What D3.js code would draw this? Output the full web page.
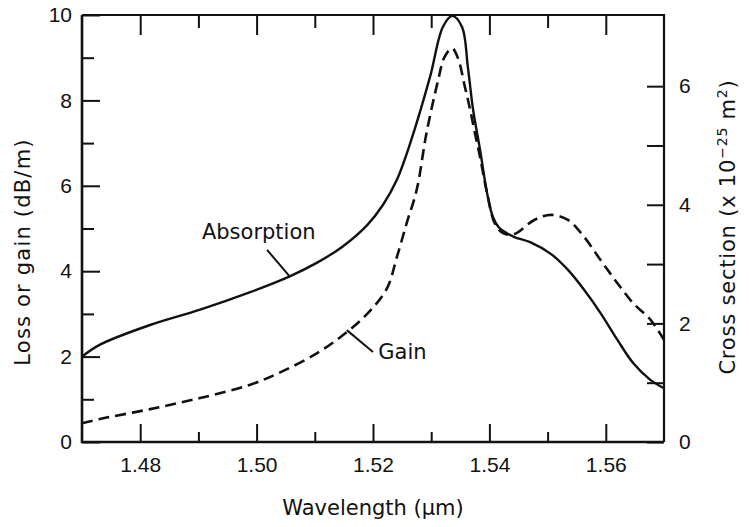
<!DOCTYPE html>
<html>
<head>
<meta charset="utf-8">
<script src="https://cdn.jsdelivr.net/npm/d3@7"></script>
<style>
  body { margin: 0; background: #fff; }
  svg { display: block; font-family: "DejaVu Sans", sans-serif; }
  .tick text { font-size: 21px; fill: #111; }
</style>
</head>
<body>
<div id="chart"></div>
<script>
// wavelength (um) and loss/gain (dB/m)
const absWl = [1.470, 1.4731, 1.4817, 1.4903, 1.4989, 1.5057, 1.5104, 1.5148, 1.519,
  1.5217, 1.5241, 1.5264, 1.5298, 1.532, 1.5336, 1.5353, 1.5363, 1.5372, 1.5384,
  1.5396, 1.5406, 1.5416, 1.543, 1.5443, 1.547, 1.5506, 1.5535, 1.5563, 1.5591,
  1.562, 1.5647, 1.5677, 1.570];
const absVal = [2.00, 2.28, 2.74, 3.10, 3.51, 3.88, 4.20, 4.58, 5.08,
  5.55, 6.14, 7.0, 8.55, 9.72, 9.98, 9.72, 8.78, 7.78, 6.84,
  5.83, 5.27, 5.03, 4.89, 4.80, 4.68, 4.40, 4.03, 3.56, 3.02,
  2.39, 1.85, 1.45, 1.26];

const gainWl = [1.470, 1.4731, 1.4817, 1.4903, 1.4989, 1.5045, 1.5104, 1.5148, 1.519, 1.5224,
  1.5241, 1.5258, 1.5275, 1.5292, 1.5312, 1.5323, 1.5336, 1.5346, 1.5358, 1.5367,
  1.5375, 1.5384, 1.5396, 1.541, 1.5425, 1.5443, 1.5477, 1.5506, 1.5535, 1.5563,
  1.5591, 1.562, 1.5647, 1.5677, 1.570];
const gainVal = [0.44, 0.54, 0.77, 1.03, 1.34, 1.66, 2.08, 2.50, 3.00, 3.60,
  4.33, 5.13, 5.90, 7.24, 8.48, 9.02, 9.22, 8.99, 8.31, 7.78,
  7.24, 6.67, 5.83, 5.1, 4.88, 4.87, 5.2, 5.32, 5.2, 4.8,
  4.26, 3.72, 3.25, 2.86, 2.39];

const xMajor = [1.48, 1.50, 1.52, 1.54, 1.56];
const xMinor = [1.49, 1.51, 1.53, 1.55];
const yMajor = [0, 2, 4, 6, 8, 10];
const yMinor = [1, 3, 5, 7, 9];
const rMajor = [0, 2, 4, 6];
const rMinor = [1, 3, 5];

const width = 749, height = 527;
const margin = { top: 15, right: 85, bottom: 85, left: 82 };

const svg = d3.select("#chart").append("svg")
  .attr("width", width).attr("height", height);

const x = d3.scaleLinear().domain([1.47, 1.57]).range([margin.left, width - margin.right]);
const y = d3.scaleLinear().domain([0, 10]).range([height - margin.bottom, margin.top]);
const yR = d3.scaleLinear().domain([0, 7.2]).range([height - margin.bottom, margin.top]);

function axisG(axis, tx, ty) {
  const g = svg.append("g").attr("transform", `translate(${tx},${ty})`).call(axis);
  g.select(".domain").remove();
  g.selectAll(".tick line").attr("stroke", "#111").attr("stroke-width", 2);
  return g;
}

const yb = height - margin.bottom;
axisG(d3.axisBottom(x).tickValues(xMajor).tickFormat(d3.format(".2f"))
  .tickSizeInner(-18).tickSizeOuter(0).tickPadding(15), 0, yb);
axisG(d3.axisBottom(x).tickValues(xMinor).tickFormat("")
  .tickSizeInner(-10).tickSizeOuter(0), 0, yb);
axisG(d3.axisTop(x).tickValues(xMajor).tickFormat("")
  .tickSizeInner(-20).tickSizeOuter(0), 0, margin.top);
axisG(d3.axisTop(x).tickValues(xMinor).tickFormat("")
  .tickSizeInner(-13).tickSizeOuter(0), 0, margin.top);

axisG(d3.axisLeft(y).tickValues(yMajor).tickFormat(d3.format("d"))
  .tickSizeInner(-18).tickSizeOuter(0).tickPadding(10), margin.left, 0);
axisG(d3.axisLeft(y).tickValues(yMinor).tickFormat("")
  .tickSizeInner(-12).tickSizeOuter(0), margin.left, 0);

const xr = width - margin.right;
axisG(d3.axisRight(yR).tickValues(rMajor).tickFormat(d3.format("d"))
  .tickSizeInner(-17).tickSizeOuter(0).tickPadding(15), xr, 0);
axisG(d3.axisRight(yR).tickValues(rMinor).tickFormat("")
  .tickSizeInner(-17).tickSizeOuter(0), xr, 0);

// frame
const x0 = margin.left, x1 = xr, y0 = margin.top, y1 = yb;
svg.append("path")
  .attr("d", `M${x0},${y0}L${x0},${y1}L${x1},${y1}`)
  .attr("fill", "none").attr("stroke", "#111").attr("stroke-width", 2.6);
svg.append("path")
  .attr("d", `M${x0},${y0}L${x1},${y0}L${x1},${y1}`)
  .attr("fill", "none").attr("stroke", "#111").attr("stroke-width", 2.2);

// curves
const line = d3.line().curve(d3.curveCatmullRom.alpha(0.5));

svg.append("path")
  .attr("d", line(absWl.map((w, i) => [x(w), y(absVal[i])])))
  .attr("fill", "none").attr("stroke", "#111").attr("stroke-width", 2.4);

svg.append("path")
  .attr("d", line(gainWl.map((w, i) => [x(w), y(gainVal[i])])))
  .attr("fill", "none").attr("stroke", "#111").attr("stroke-width", 2.6)
  .attr("stroke-dasharray", "11,6");

// annotations
function leader(a, b) {
  svg.append("line")
    .attr("x1", x(a[0])).attr("y1", y(a[1]))
    .attr("x2", x(b[0])).attr("y2", y(b[1]))
    .attr("stroke", "#111").attr("stroke-width", 2);
}
svg.append("text").attr("x", x(1.4906)).attr("y", y(4.75))
  .attr("font-size", 21).attr("fill", "#111").text("Absorption");
leader([1.5018, 4.50], [1.5056, 3.89]);

svg.append("text").attr("x", x(1.5209)).attr("y", y(1.94))
  .attr("font-size", 21).attr("fill", "#111").text("Gain");
leader([1.5155, 2.62], [1.5200, 2.11]);

// axis titles
svg.append("text")
  .attr("x", (x0 + x1) / 2).attr("y", 515)
  .attr("text-anchor", "middle").attr("font-size", 21).attr("fill", "#111")
  .text("Wavelength (\u00b5m)");

svg.append("text")
  .attr("transform", `translate(30,252) rotate(-90)`)
  .attr("text-anchor", "middle").attr("font-size", 21).attr("letter-spacing", 1.2)
  .attr("fill", "#111")
  .text("Loss or gain (dB/m)");

const rt = svg.append("text")
  .attr("transform", `translate(735,227) rotate(-90)`)
  .attr("text-anchor", "middle").attr("font-size", 21).attr("letter-spacing", 0.8)
  .attr("fill", "#111");
rt.append("tspan").text("Cross section (x 10");
rt.append("tspan").attr("dy", -8).attr("font-size", 14).text("\u221225");
rt.append("tspan").attr("dy", 8).text(" m");
rt.append("tspan").attr("dy", -8).attr("font-size", 14).text("2");
rt.append("tspan").attr("dy", 8).text(")");
</script>
</body>
</html>
